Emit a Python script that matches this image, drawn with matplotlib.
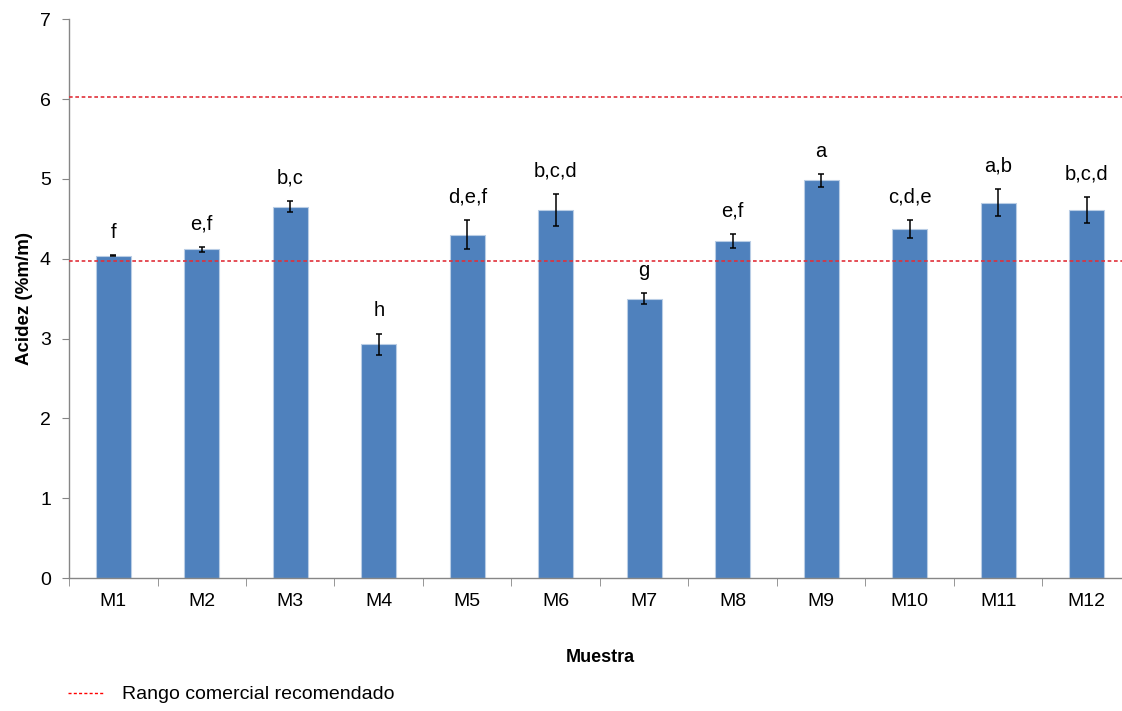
import numpy as np
import matplotlib
matplotlib.use('Agg')
import matplotlib.pyplot as plt
from matplotlib.lines import Line2D

plt.rcParams['font.family'] = ['Liberation Sans', 'DejaVu Sans']

# Data
muestras = ['M1', 'M2', 'M3', 'M4', 'M5', 'M6', 'M7', 'M8', 'M9', 'M10', 'M11', 'M12']
acidez = [4.04, 4.12, 4.65, 2.93, 4.30, 4.61, 3.50, 4.22, 4.98, 4.37, 4.70, 4.61]
error = [0.005, 0.03, 0.07, 0.13, 0.18, 0.20, 0.065, 0.09, 0.08, 0.11, 0.17, 0.165]
letras = ['f', 'e,f', 'b,c', 'h', 'd,e,f', 'b,c,d', 'g', 'e,f', 'a', 'c,d,e', 'a,b', 'b,c,d']
rango = [3.97, 6.03]

fig = plt.figure(figsize=(11.22, 7.11), dpi=100)
ax = fig.add_axes([0.0615, 0.187, 0.9465, 0.786])

x = np.arange(len(muestras))
ax.bar(x, acidez, width=0.4, color='#4f81bd', edgecolor='#b9cde5', linewidth=0.8,
       yerr=error, capsize=2.5, error_kw=dict(ecolor='black', elinewidth=1.1, capthick=1.1),
       zorder=2)

for xi, v, e, t in zip(x, acidez, error, letras):
    ax.text(xi, v + e + 0.17, t, ha='center', va='bottom', fontsize=14.5, color='black')

for r in rango:
    ax.axhline(r, color='#e0303a', linestyle=(0, (2.2, 1.6)), linewidth=1.2, zorder=3)

ax.set_xlim(-0.5, len(muestras) - 0.5)
ax.set_ylim(0, 7)
ax.set_yticks(range(8))
ax.tick_params(axis='y', labelsize=14, length=5, color='#868686', direction='out', pad=8)

ax.set_xticks(x)
ax.set_xticklabels(muestras)
ax.tick_params(axis='x', which='major', length=0, labelsize=14, pad=11)
ax.set_xticks(np.arange(len(muestras) + 1) - 0.5, minor=True)
ax.tick_params(axis='x', which='minor', length=6, color='#868686', direction='out')

for s in ['top', 'right']:
    ax.spines[s].set_visible(False)
for s in ['left', 'bottom']:
    ax.spines[s].set_color('#868686')
    ax.spines[s].set_linewidth(1.0)

ax.set_ylabel('Acidez (%m/m)', fontsize=13.5, fontweight='bold', labelpad=5)
ax.set_xlabel('Muestra', fontsize=13, fontweight='bold', labelpad=28)

handle = Line2D([], [], color='red', linestyle=(0, (2.2, 1.6)), linewidth=1.0)
fig.legend([handle], ['Rango comercial recomendado'], loc='lower left',
           bbox_to_anchor=(0.045, -0.014), frameon=False, fontsize=14,
           handlelength=1.85, handletextpad=0.93)

fig.savefig('out.png', dpi=100)
